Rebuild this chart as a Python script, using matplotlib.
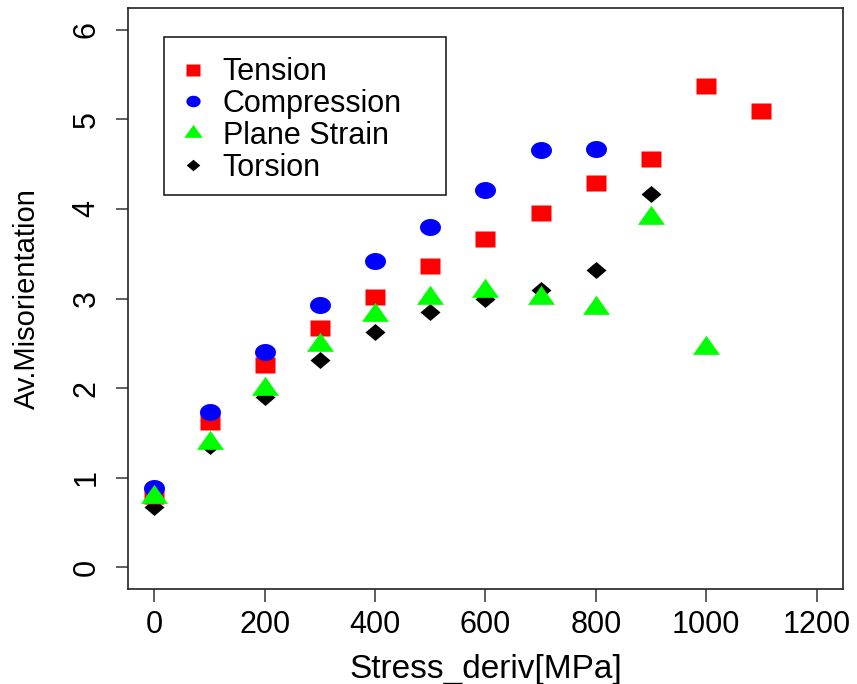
import numpy as np
import matplotlib.pyplot as plt
from matplotlib.patches import Rectangle

plt.rcParams['font.family'] = ['Liberation Sans', 'DejaVu Sans']

tension_x = [0, 100, 200, 300, 400, 500, 600, 700, 800, 900, 1000, 1100]
tension = [0.80, 1.62, 2.26, 2.67, 3.02, 3.36, 3.66, 3.95, 4.29, 4.56, 5.37, 5.09]

compression_x = [0, 100, 200, 300, 400, 500, 600, 700, 800]
compression = [0.89, 1.73, 2.40, 2.93, 3.42, 3.80, 4.21, 4.66, 4.67]

plane_x = [0, 100, 200, 300, 400, 500, 600, 700, 800, 900, 1000]
plane_strain = [0.79, 1.39, 1.99, 2.48, 2.82, 3.01, 3.08, 3.01, 2.89, 3.90, 2.45]

torsion_x = [0, 100, 200, 300, 400, 500, 600, 700, 800, 900]
torsion = [0.67, 1.36, 1.90, 2.31, 2.63, 2.85, 2.99, 3.10, 3.32, 4.16]

# slightly wide symbols, like the R device output
t = np.linspace(0, 2 * np.pi, 60)
ellipse = list(zip(np.cos(t), 0.81 * np.sin(t)))
square = [(-1, -0.81), (1, -0.81), (1, 0.81), (-1, 0.81), (-1, -0.81)]
triangle = [(-1, -0.47), (1, -0.47), (0, 0.94), (-1, -0.47)]
diamond = [(-1, 0), (0, -0.85), (1, 0), (0, 0.85), (-1, 0)]

W, H = 857, 684
fig = plt.figure(figsize=(W / 100, H / 100), dpi=100)
ax = fig.add_axes([128 / W, 1 - 589 / H, (843 - 128) / W, (589 - 8) / H])

ax.plot(torsion_x, torsion, ls='none', marker=diamond, ms=14.4, color='black',
        mec='none', label='Torsion', zorder=2)
ax.plot(tension_x, tension, ls='none', marker=square, ms=15.1, color='#ff0000',
        mec='none', label='Tension', zorder=3)
ax.plot(compression_x, compression, ls='none', marker=ellipse, ms=15.1, color='#0000ff',
        mec='none', label='Compression', zorder=4)
ax.plot(plane_x, plane_strain, ls='none', marker=triangle, ms=19.4, color='#00ff00',
        mec='none', label='Plane Strain', zorder=5)

ax.set_xlim(-48, 1248)
ax.set_ylim(-0.24, 6.24)
ax.set_xticks([0, 200, 400, 600, 800, 1000, 1200])
ax.set_yticks([0, 1, 2, 3, 4, 5, 6])
ax.tick_params(direction='out', length=9, width=1.1, color='#333333')
ax.tick_params(axis='x', labelsize=22, pad=6)
ax.tick_params(axis='y', labelsize=22, pad=10)
for lab in ax.get_yticklabels():
    lab.set_rotation(90)
    lab.set_va('center')
for sp in ax.spines.values():
    sp.set_linewidth(1.2)
    sp.set_color('#222222')

ax.set_xlabel('Stress_deriv[MPa]', fontsize=24, labelpad=10)
ax.set_ylabel('Av.Misorientation', fontsize=21, labelpad=22)

# legend entries with a separately drawn frame
handles, labels = ax.get_legend_handles_labels()
order = [1, 2, 3, 0]
ax.legend([handles[i] for i in order], [labels[i] for i in order],
          loc='upper left', bbox_to_anchor=(164 / W, 1 - 39 / H),
          bbox_transform=fig.transFigure, fontsize=22, markerscale=0.68,
          frameon=False, handlelength=0.72, handletextpad=0.6,
          labelspacing=0.06, borderpad=0.6, borderaxespad=0)
fig.add_artist(Rectangle((164 / W, 1 - 195 / H), (446 - 164) / W, (195 - 37) / H,
                         transform=fig.transFigure, fill=False,
                         edgecolor='#222222', linewidth=1.2, zorder=10))

fig.savefig('out.png', dpi=100)
